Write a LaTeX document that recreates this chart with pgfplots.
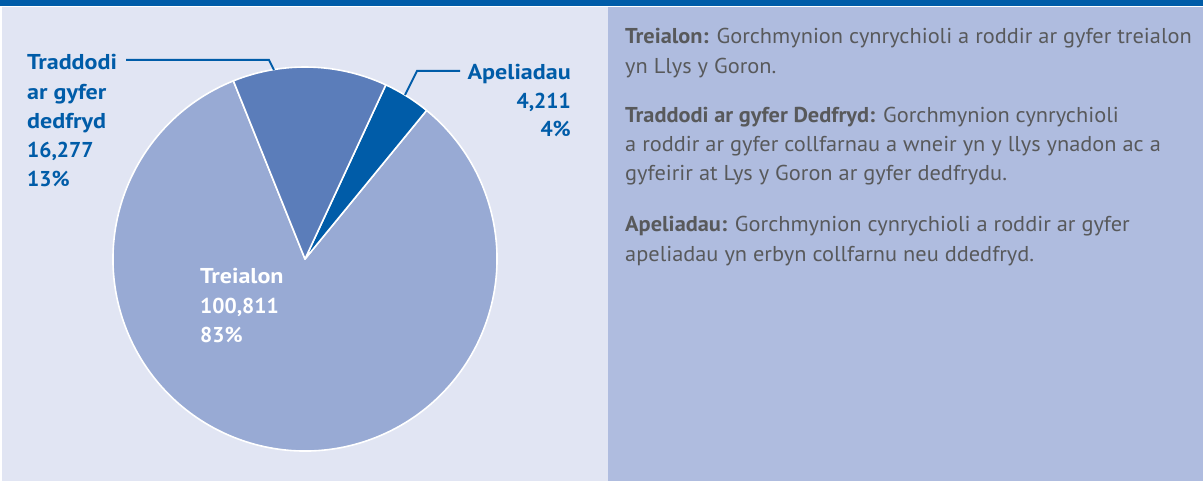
\documentclass[border=0pt]{standalone}
\usepackage{pgfplots}
\pgfplotsset{compat=1.18}
\usepackage{pgfplotstable}
\usepackage{fontspec}
\setmainfont{PT Sans}[FakeStretch=1.04]
\newfontfamily\labfont{PT Sans}[FakeStretch=1.12]
\newfontfamily\numfont{PT Sans}
\definecolor{topblue}{HTML}{005CA8}
\definecolor{leftbg}{HTML}{E1E5F3}
\definecolor{rightbg}{HTML}{AFBCDF}
\definecolor{cTrei}{HTML}{98AAD4}
\definecolor{cTrad}{HTML}{5B7DBA}
\definecolor{cApel}{HTML}{005CA8}
\definecolor{txtgray}{HTML}{58595B}

\pgfplotstableread{
name pct value
Treialon 83 100811
Traddodi 13 16277
Apeliadau 4 4211
}\piedata

\newcommand\lab{\labfont\fontsize{21.5}{29}\selectfont\bfseries}
\newcommand\num{\numfont\fontsize{21.5}{29}\selectfont\bfseries}
\newcommand\rt{\fontsize{21.5}{29}\selectfont}

\begin{document}%
\begin{tikzpicture}
\pgfplotstablegetelem{0}{pct}\of\piedata\let\pTrei\pgfplotsretval
\pgfplotstablegetelem{1}{pct}\of\piedata\let\pTrad\pgfplotsretval
\pgfplotstablegetelem{2}{pct}\of\piedata\let\pApel\pgfplotsretval
\pgfmathsetmacro\aStart{111.9}
\pgfmathsetmacro\aA{\aStart+3.6*\pTrei}
\pgfmathsetmacro\aB{\aA+3.6*\pApel}
\pgfmathsetmacro\aC{\aB+3.6*\pTrad}
\begin{axis}[at={(0,0)}, anchor=south west, width=1203pt, height=481pt,
  scale only axis, xmin=0, xmax=1203, ymin=0, ymax=481, y dir=reverse,
  hide axis, clip=false]
% backgrounds
\addplot[draw=none, fill=leftbg] coordinates {(2,7) (607.5,7) (607.5,481) (2,481)} -- cycle;
\addplot[draw=none, fill=rightbg] coordinates {(608,7) (1203,7) (1203,481) (608,481)} -- cycle;
\addplot[draw=none, fill=topblue] coordinates {(0,0) (1203,0) (1203,6.5) (0,6.5)} -- cycle;
% pie
\filldraw[fill=cTrei, draw=white, line width=1.6pt, line join=round]
  (axis cs:305,259) -- ++(\aStart:192pt) arc[start angle=\aStart, end angle=\aA, radius=192pt] -- cycle;
\filldraw[fill=cApel, draw=white, line width=1.6pt, line join=round]
  (axis cs:305,259) -- ++(\aA:192pt) arc[start angle=\aA, end angle=\aB, radius=192pt] -- cycle;
\filldraw[fill=cTrad, draw=white, line width=1.6pt, line join=round]
  (axis cs:305,259) -- ++(\aB:192pt) arc[start angle=\aB, end angle=\aC, radius=192pt] -- cycle;
% leader lines
\addplot[topblue, line width=2pt, no marks] coordinates {(126,60) (269,60) (274,70)};
\addplot[topblue, line width=2pt, no marks] coordinates {(460,71) (417,71) (405,95)};
% labels
\begin{scope}[every node/.style={inner sep=0pt, text=topblue, font=\lab}]
\node[anchor=base west] at (axis cs:27,70) {Traddodi};
\node[anchor=base west] at (axis cs:27,99.3) {ar gyfer};
\node[anchor=base west] at (axis cs:27,128.5) {dedfryd};
\node[anchor=base west, font=\num] at (axis cs:27,157.8) {16,277};
\node[anchor=base west, font=\num] at (axis cs:27,187) {13\%};
\node[anchor=base east] at (axis cs:571,80) {Apeliadau};
\node[anchor=base east, font=\num] at (axis cs:571,108.5) {4,211};
\node[anchor=base east, font=\num] at (axis cs:571,137) {4\%};
\node[anchor=base west, text=white] at (axis cs:200,284) {Treialon};
\node[anchor=base west, text=white, font=\num] at (axis cs:200,313) {100,811};
\node[anchor=base west, text=white, font=\num] at (axis cs:200,342) {83\%};
\end{scope}
\begin{scope}[every node/.style={inner sep=0pt, text=txtgray, font=\rt, anchor=base west}]
\node at (axis cs:625,44) {\textbf{Treialon:} Gorchmynion cynrychioli a roddir ar gyfer treialon};
\node at (axis cs:625,74) {yn Llys y Goron.};
\node at (axis cs:625,123) {\textbf{Traddodi ar gyfer Dedfryd:} Gorchmynion cynrychioli};
\node at (axis cs:625,152) {a roddir ar gyfer collfarnau a wneir yn y llys ynadon ac a};
\node at (axis cs:625,181) {gyfeirir at Lys y Goron ar gyfer dedfrydu.};
\node at (axis cs:625,232) {\textbf{Apeliadau:} Gorchmynion cynrychioli a roddir ar gyfer};
\node at (axis cs:625,262) {apeliadau yn erbyn collfarnu neu ddedfryd.};
\end{scope}
\end{axis}
\pgfresetboundingbox
\useasboundingbox (0,0) rectangle (1203pt,481pt);
\end{tikzpicture}%
\end{document}
